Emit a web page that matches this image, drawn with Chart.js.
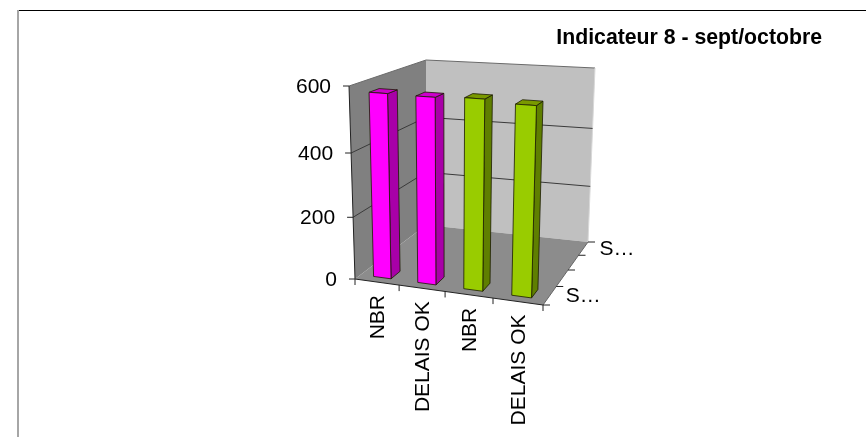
<!DOCTYPE html>
<html>
<head>
<meta charset="utf-8">
<title>Indicateur 8</title>
<script src="https://cdn.jsdelivr.net/npm/chart.js@4/dist/chart.umd.min.js"></script>
<style>
  html, body { margin: 0; padding: 0; background: #fff; overflow: hidden; }
  #wrap { position: relative; width: 866px; height: 437px; }
  #edgeTop { position: absolute; left: 18px; top: 10px; right: 0; height: 1px; background: #000; }
  #edgeLeft { position: absolute; left: 17px; top: 10px; bottom: 0; width: 2px; background: #a6a6a6; }
  canvas { position: absolute; left: 0; top: 0; }
</style>
</head>
<body>
<div id="wrap">
  <canvas id="myChart" width="866" height="437"></canvas>
  <div id="edgeTop"></div>
  <div id="edgeLeft"></div>
</div>
<script>
var titleText = 'Indicateur 8 - sept/octobre';
var categories = ['NBR', 'DELAIS OK', 'NBR', 'DELAIS OK'];
var values = [578, 577, 582, 574];
var valueTicks = [0, 200, 400, 600];
var depthLabels = ['S\u2026', 'S\u2026'];

//colours for front, top and side of each bar
var frontColors = ['#FF00FF', '#FF00FF', '#99CC00', '#99CC00'];
var topColors = ['#CC00CC', '#CC00CC', '#7A9900', '#7A9900'];
var sideColors = ['#A800A8', '#A800A8', '#5F7F00', '#5F7F00'];

//where the corners of the 3d box land on screen
var box = {
    fbl: [355, 279], ftl: [349, 86], fbr: [543, 305], ftr: [549, 100],
    bbl: [426, 225], btl: [426, 60], bbr: [588, 242], btr: [595, 68]
};
var barDepthFrom = 0.065;
var barDepthTo = 0.18;
var font = '"Liberation Sans", Arial, sans-serif';

function warp(t, a) {
    return a * t / (1 + (a - 1) * t);
}

function mix(p, q, t) {
    return [p[0] + (q[0] - p[0]) * t, p[1] + (q[1] - p[1]) * t];
}

//u along categories, v up the value axis, w towards the back wall, all 0..1
function project(u, v, w) {
    var uu = warp(u, 0.92), vv = warp(v, 0.94), ww = warp(w, 1.25);
    var front = mix(mix(box.fbl, box.fbr, uu), mix(box.ftl, box.ftr, uu), vv);
    var back = mix(mix(box.bbl, box.bbr, uu), mix(box.btl, box.btr, uu), vv);
    return mix(front, back, ww);
}

function poly(ctx, pts, fill, stroke, lw) {
    ctx.beginPath();
    pts.forEach(function (p, i) {
        if (i === 0) ctx.moveTo(p[0], p[1]); else ctx.lineTo(p[0], p[1]);
    });
    ctx.closePath();
    if (fill) { ctx.fillStyle = fill; ctx.fill(); }
    if (stroke) { ctx.strokeStyle = stroke; ctx.lineWidth = lw || 1; ctx.stroke(); }
}

function seg(ctx, a, b, color, lw) {
    ctx.beginPath();
    ctx.moveTo(a[0], a[1]);
    ctx.lineTo(b[0], b[1]);
    ctx.strokeStyle = color;
    ctx.lineWidth = lw || 1;
    ctx.stroke();
}

var box3d = {
    id: 'box3d',
    beforeDatasetsDraw: function (chart) {
        var ctx = chart.ctx, area = chart.chartArea;
        var xs = chart.scales.x, ys = chart.scales.y;
        var toU = function (px) { return (px - area.left) / (area.right - area.left); };
        var toV = function (py) { return (area.bottom - py) / (area.bottom - area.top); };

        ctx.save();
        //walls and floor
        poly(ctx, [box.fbl, box.ftl, box.btl, box.bbl], '#808080');
        poly(ctx, [box.bbl, box.btl, box.btr, box.bbr], '#C0C0C0');
        poly(ctx, [box.fbl, box.bbl, box.bbr, box.fbr], '#8C8C8C');
        seg(ctx, box.ftl, box.btl, '#6a6a6a');
        seg(ctx, box.btl, box.btr, '#6a6a6a');
        seg(ctx, box.btr, box.bbr, '#d8d8d8');

        //gridlines round the two walls
        valueTicks.forEach(function (t) {
            if (t === 0) return;
            var v = toV(ys.getPixelForValue(t));
            if (t < valueTicks[valueTicks.length - 1]) {
                seg(ctx, project(0, v, 0), project(0, v, 1), '#3a3a3a');
                seg(ctx, project(0, v, 1), project(1, v, 1), '#3a3a3a');
            }
        });

        //value axis
        seg(ctx, box.fbl, box.ftl, '#222');
        ctx.fillStyle = '#000';
        ctx.font = '21px ' + font;
        ctx.textAlign = 'right';
        ctx.textBaseline = 'middle';
        valueTicks.forEach(function (t) {
            var p = project(0, toV(ys.getPixelForValue(t)), 0);
            seg(ctx, [p[0] - 6, p[1]], p, '#222');
            ctx.fillStyle = '#000';
            ctx.fillText(String(t), p[0] - 18, p[1] + 1);
        });

        //category axis
        seg(ctx, box.fbl, box.fbr, '#222');
        for (var i = 0; i <= categories.length; i++) {
            var p = project(i / categories.length, 0, 0);
            seg(ctx, p, [p[0], p[1] + 6], '#222');
        }
        categories.forEach(function (c, i) {
            var p = project(toU(xs.getPixelForValue(i)), 0, 0);
            ctx.save();
            ctx.translate(p[0] + 1, p[1] + 13);
            ctx.rotate(-Math.PI / 2);
            ctx.textAlign = 'right';
            ctx.textBaseline = 'middle';
            ctx.fillStyle = '#000';
            ctx.fillText(c, 0, 0);
            ctx.restore();
        });

        //depth axis
        seg(ctx, box.fbr, box.bbr, '#666');
        for (var k = 0; k <= 4; k++) {
            var q = project(1, 0, k / 4);
            seg(ctx, q, [q[0] + 7, q[1]], '#222');
        }
        ctx.textAlign = 'left';
        depthLabels.forEach(function (s, i) {
            var q = project(1, 0, i === 0 ? 0.125 : 0.875);
            ctx.fillStyle = '#000';
            ctx.fillText(s, q[0] + 16, q[1] + 1);
        });

        //bars, left to right, off the library's own elements
        chart.getDatasetMeta(0).data.forEach(function (bar, i) {
            var u0 = toU(bar.x - bar.width / 2), u1 = toU(bar.x + bar.width / 2);
            var v1 = toV(bar.y), v0 = toV(bar.base);
            var w0 = barDepthFrom, w1 = barDepthTo;
            var line = '#1a1a00';
            poly(ctx, [project(u1, v0, w0), project(u1, v1, w0), project(u1, v1, w1), project(u1, v0, w1)], sideColors[i], line, 0.8);
            poly(ctx, [project(u0, v1, w0), project(u1, v1, w0), project(u1, v1, w1), project(u0, v1, w1)], topColors[i], line, 0.8);
            poly(ctx, [project(u0, v0, w0), project(u1, v0, w0), project(u1, v1, w0), project(u0, v1, w0)], frontColors[i], line, 0.8);
        });
        ctx.restore();
        return false;
    }
};

var myChart = new Chart(document.getElementById('myChart').getContext('2d'), {
    type: 'bar',
    data: {
        labels: categories,
        datasets: [{
            data: values,
            backgroundColor: frontColors,
            barPercentage: 0.4,
            categoryPercentage: 1
        }]
    },
    options: {
        responsive: false,
        animation: false,
        layout: { padding: { top: 25, right: 44, left: 300, bottom: 40 } },
        plugins: {
            legend: { display: false },
            tooltip: { enabled: false },
            title: {
                display: true,
                text: titleText,
                align: 'end',
                color: '#000',
                font: { family: font, size: 21.25, weight: 'bold' },
                padding: { top: 0, bottom: 10 }
            }
        },
        scales: {
            x: { display: false },
            y: { display: false, min: 0, max: 600 }
        }
    },
    plugins: [box3d]
});
</script>
</body>
</html>
